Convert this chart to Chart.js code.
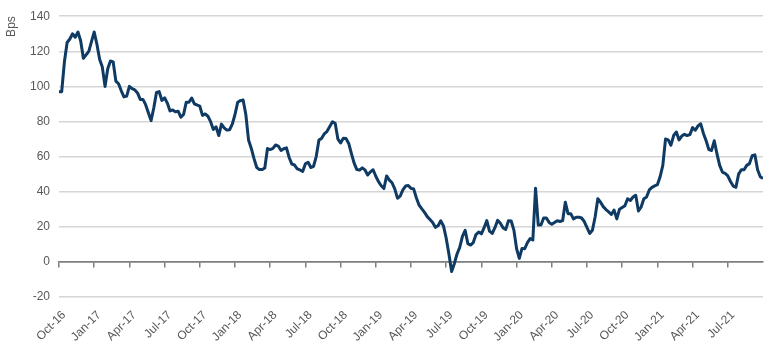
<!DOCTYPE html>
<html>
<head>
<meta charset="utf-8">
<script src="https://cdn.jsdelivr.net/npm/chart.js@4.4.0/dist/chart.umd.min.js"></script>
<style>
  html, body { margin: 0; padding: 0; background: #fff; }
</style>
</head>
<body>
<canvas id="myChart" width="770" height="348"></canvas>
<script>
// quarterly axis labels, one every 13 weeks
const tickLabels = [
	"Oct-16", "Jan-17", "Apr-17", "Jul-17", "Oct-17", "Jan-18", "Apr-18",
	"Jul-18", "Oct-18", "Jan-19", "Apr-19", "Jul-19", "Oct-19", "Jan-20",
	"Apr-20", "Jul-20", "Oct-20", "Jan-21", "Apr-21", "Jul-21",
];
const WEEKS_PER_QUARTER = 13;

// weekly spread in bps (one row per quarter)
const spreadBps = [
	97, 97, 114, 125, 127, 130, 128, 131, 126, 116, 118, 120, 125.5,
	131, 124, 115.5, 111, 100, 110, 114.5, 114, 103, 101.5, 97.5, 94, 94.5,
	100, 98.7, 98, 96.3, 92.6, 92.6, 89.6, 85, 80.5, 87.7, 96.5, 97, 92,
	93.5, 90.5, 86, 86.6, 85.5, 85.9, 82.5, 84, 91, 91, 93.4, 90, 89.4,
	88.7, 83.5, 84.3, 83, 79.9, 75.5, 77, 72, 78.5, 76.4, 75.1, 75.3, 78.5,
	84, 91, 91.9, 92.2, 84, 69.5, 64.8, 59, 53.9, 52.6, 52.6, 53.5, 64.6,
	64, 64.7, 66.6, 66, 63.5, 64.5, 65, 59.5, 55.7, 55.2, 53, 52.4, 51.5,
	55.9, 56.8, 53.8, 54.4, 60, 69.5, 70.4, 73, 74.4, 77.2, 79.8, 79, 70,
	67.8, 70.4, 70.3, 67.5, 61.7, 56.3, 52.6, 52.3, 53.6, 52.4, 49.5, 51.3, 52.5,
	48.8, 45.7, 43.4, 41.8, 49, 46.6, 45.1, 41.6, 36.3, 37.5, 41, 43.2, 43.5,
	41.9, 41.5, 36.4, 32.3, 30.2, 28.2, 25.8, 24.1, 22.4, 19.7, 20.6, 23.4, 20.5,
	13.5, 4.5, -5.5, -1, 4.5, 8.3, 14.6, 18, 10.4, 9.6, 11, 15.6, 17,
	16, 19.5, 23.5, 17.5, 16.2, 19.5, 23.7, 22, 19.4, 18.5, 23.5, 23.3, 18.1,
	7.5, 2, 7.7, 7.5, 11, 13.3, 12.5, 42, 21, 21, 25, 25, 22.5,
	21.5, 22.5, 23.5, 23, 23.5, 34, 27.5, 27.5, 24.5, 25.5, 25.5, 25, 23,
	19.5, 16.2, 18, 25.6, 36, 34, 31.5, 29.8, 28.5, 27, 29.5, 24.5, 30,
	31, 32, 36, 35, 37, 38, 29, 31.3, 36, 37, 41, 42.5, 43.3,
	44, 48.5, 55, 70, 69.5, 66.5, 72, 74, 69.5, 71.7, 72.7, 72, 72.5,
	76.5, 75, 77.5, 78.7, 73.2, 69, 64, 63.5, 69, 61.5, 55, 51.2, 50.5,
	49, 45.8, 43.2, 42.5, 50, 52.5, 52.5, 55, 56, 60.5, 61, 52.5, 48.5,
	47.5,
];

const yTicks = { min: -20, max: 140, step: 20 };

const TEXT_COLOR = "#595959";
const FONT = { family: "'Liberation Sans', Arial, sans-serif", size: 12 };
const lastWeek = tickLabels.length * WEEKS_PER_QUARTER;

function quarterLabel(value) {
	const label = tickLabels[value / WEEKS_PER_QUARTER];
	return label === undefined ? null : label;
}

const ctx = document.getElementById("myChart");

const myChart = new Chart(ctx, {
	type: "line",
	data: {
		datasets: [
			{
				label: "Spread",
				data: spreadBps.map((v, i) => ({ x: i, y: v })),
				borderColor: "#0f3a63",
				borderWidth: 3,
				borderJoinStyle: "round",
				pointRadius: 0,
				tension: 0,
			},
		],
	},
	options: {
		responsive: false,
		animation: false,
		layout: {
			padding: { top: 4, right: 7, left: 0, bottom: 0 },
		},
		plugins: {
			legend: { display: false },
			tooltip: { enabled: false },
		},
		scales: {
			x: {
				type: "linear",
				position: "bottom",
				min: 0,
				max: lastWeek,
				grid: { display: false, drawTicks: false },
				border: { display: false },
				ticks: {
					stepSize: WEEKS_PER_QUARTER,
					autoSkip: false,
					minRotation: 45,
					maxRotation: 45,
					padding: 11,
					labelOffset: 5,
					color: TEXT_COLOR,
					font: FONT,
					callback: quarterLabel,
				},
				afterFit: (scale) => {
					scale.height = 51;
				},
			},
			// axis line with tick marks, crossing at zero
			x2: {
				type: "linear",
				position: { y: 0 },
				min: 0,
				max: lastWeek,
				grid: {
					drawOnChartArea: false,
					drawTicks: true,
					tickLength: 5,
					color: "#7f7f7f",
					lineWidth: 1.5,
				},
				border: { color: "#7f7f7f", width: 1.5 },
				ticks: {
					display: false,
					stepSize: WEEKS_PER_QUARTER,
					autoSkip: false,
					callback: quarterLabel,
				},
			},
			y: {
				min: yTicks.min,
				max: yTicks.max,
				grid: {
					drawTicks: false,
					color: (c) => (c.tick && c.tick.value === 0 ? "#7f7f7f" : "#d6d6d6"),
					lineWidth: 1.5,
				},
				border: { display: false },
				ticks: {
					stepSize: yTicks.step,
					padding: 9,
					color: TEXT_COLOR,
					font: FONT,
				},
				title: {
					display: true,
					text: "Bps",
					align: "end",
					color: TEXT_COLOR,
					font: FONT,
					padding: { top: 4, bottom: 0 },
				},
				afterFit: (scale) => {
					scale.width = 59;
				},
			},
		},
	},
});
</script>
</body>
</html>
